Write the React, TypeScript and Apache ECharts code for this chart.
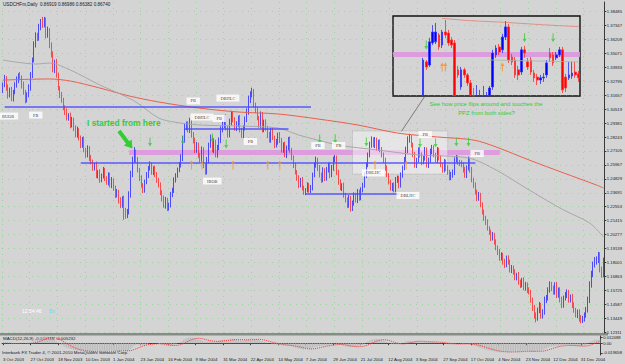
import React, { useEffect, useRef } from "react";
import * as echarts from "echarts";

// ---------- main price data (USDCHF daily) ----------
const firstOpen = 1.3209;
const closes = [
  1.3250,1.3307,1.3225,1.3168,1.3209,1.3143,1.3192,1.3250,1.3290,1.3331,1.3307,1.3250,1.3192,1.3127,1.3168,1.3225,
  1.3331,1.3454,1.3576,1.3658,1.3634,1.3715,1.3764,1.3740,1.3781,1.3658,1.3699,1.3576,1.3495,1.3372,1.3438,1.3331,
  1.3225,1.3168,1.3127,1.3062,1.3029,1.2980,1.3004,1.2923,1.2964,1.2898,1.2841,1.2882,1.2817,1.2759,1.2800,1.2718,
  1.2678,1.2735,1.2653,1.2620,1.2571,1.2596,1.2514,1.2539,1.2473,1.2506,1.2555,1.2490,1.2457,1.2514,1.2432,1.2473,
  1.2408,1.2351,1.2375,1.2310,1.2269,1.2326,1.2228,1.2187,1.2212,1.2351,1.2514,1.2637,1.2702,1.2637,1.2555,1.2490,
  1.2432,1.2392,1.2457,1.2514,1.2571,1.2596,1.2539,1.2571,1.2514,1.2473,1.2432,1.2375,1.2326,1.2269,1.2310,1.2245,
  1.2269,1.2351,1.2392,1.2473,1.2514,1.2555,1.2596,1.2653,1.2800,1.2898,1.2923,1.2882,1.2947,1.2841,1.2800,1.2718,
  1.2759,1.2678,1.2637,1.2718,1.2596,1.2539,1.2637,1.2759,1.2817,1.2718,1.2784,1.2678,1.2735,1.2800,1.2882,1.2923,
  1.2980,1.2898,1.2841,1.2947,1.3004,1.2964,1.2898,1.2923,1.2980,1.2882,1.2841,1.2898,1.2964,1.3029,1.3127,1.3168,
  1.3192,1.3086,1.3045,1.2980,1.2923,1.3004,1.2882,1.2947,1.2898,1.2841,1.2800,1.2882,1.2817,1.2759,1.2784,1.2841,
  1.2800,1.2718,1.2759,1.2678,1.2735,1.2800,1.2718,1.2653,1.2596,1.2539,1.2490,1.2432,1.2473,1.2408,1.2375,1.2392,
  1.2432,1.2392,1.2408,1.2514,1.2596,1.2637,1.2571,1.2514,1.2473,1.2555,1.2490,1.2555,1.2596,1.2514,1.2571,1.2637,
  1.2653,1.2539,1.2457,1.2408,1.2432,1.2351,1.2310,1.2269,1.2326,1.2245,1.2286,1.2351,1.2310,1.2375,1.2326,1.2392,
  1.2432,1.2514,1.2596,1.2678,1.2759,1.2800,1.2759,1.2800,1.2735,1.2784,1.2718,1.2678,1.2637,1.2571,1.2514,1.2457,
  1.2408,1.2432,1.2392,1.2473,1.2490,1.2432,1.2514,1.2571,1.2637,1.2718,1.2800,1.2817,1.2759,1.2678,1.2596,1.2637,
  1.2718,1.2678,1.2620,1.2653,1.2718,1.2596,1.2637,1.2702,1.2735,1.2678,1.2637,1.2718,1.2653,1.2596,1.2555,1.2620,
  1.2571,1.2539,1.2490,1.2514,1.2539,1.2637,1.2653,1.2620,1.2612,1.2596,1.2555,1.2514,1.2571,1.2637,1.2555,1.2473,
  1.2432,1.2375,1.2326,1.2351,1.2269,1.2212,1.2163,1.2130,1.2081,1.2049,1.2000,1.2024,1.1967,1.1918,1.1885,1.1836,
  1.1861,1.1804,1.1779,1.1836,1.1804,1.1738,1.1754,1.1722,1.1673,1.1697,1.1640,1.1616,1.1656,1.1591,1.1616,1.1575,
  1.1558,1.1493,1.1428,1.1370,1.1346,1.1411,1.1452,1.1370,1.1395,1.1493,1.1509,1.1575,1.1616,1.1591,1.1558,1.1616,
  1.1534,1.1575,1.1493,1.1452,1.1509,1.1534,1.1558,1.1493,1.1518,1.1452,1.1411,1.1370,1.1395,1.1346,1.1330,1.1346,
  1.1370,1.1411,1.1493,1.1616,1.1697,1.1779,1.1804,1.1820,1.1861,1.1738,1.1697,1.1804,
];
// wick extensions beyond the body, in pips
const upperWicks = [
  20,25,15,30,20,25,18,22,30,15,25,20,28,18,22,30,
  25,20,30,22,18,35,25,42,25,20,28,15,22,30,18,25,
  20,15,25,18,22,30,15,20,25,18,22,28,15,20,25,30,
  18,22,15,25,20,18,28,15,22,20,25,18,15,22,20,25,
  15,20,25,18,22,15,20,18,25,30,35,28,40,20,25,18,
  22,15,20,25,18,30,22,15,20,25,18,22,15,20,25,18,
  20,25,18,22,15,20,25,30,35,40,28,30,35,22,25,18,
  25,20,18,30,22,15,25,20,28,22,30,18,25,20,30,35,
  25,30,20,28,35,25,22,30,20,25,18,22,28,30,35,30,
  35,25,20,22,18,30,25,20,22,18,25,20,22,18,25,20,
  25,18,22,28,20,25,30,18,22,20,15,22,18,25,20,15,
  22,18,25,20,22,28,18,25,20,22,15,25,20,22,25,28,
  25,20,18,22,15,20,18,22,25,18,20,22,18,25,20,22,
  18,25,22,20,28,30,22,25,20,18,22,25,20,18,22,15,
  20,18,22,25,20,18,22,20,25,28,30,35,22,20,25,18,
  22,25,20,18,25,22,20,28,25,22,18,25,20,22,18,25,
  20,22,18,25,20,22,25,20,18,22,20,25,22,28,20,25,
  18,22,20,25,18,22,20,18,22,15,20,25,18,22,20,25,
  22,18,25,20,22,18,25,20,22,18,25,20,18,22,25,20,
  22,18,20,25,22,20,25,18,22,28,25,22,30,25,20,22,
  25,20,22,28,20,25,22,18,20,25,22,18,20,22,25,18,
  22,25,28,30,35,28,40,30,25,22,28,35,
];
const lowerWicks = [
  25,18,22,30,20,25,28,18,22,25,20,30,22,28,20,18,
  22,25,18,20,25,22,18,25,20,28,22,25,20,18,25,22,
  20,25,22,18,25,20,22,28,20,25,18,22,20,25,22,18,
  22,20,25,18,22,20,25,28,22,18,20,25,22,28,20,25,
  22,25,20,28,25,22,80,30,25,20,22,18,25,22,20,25,
  20,25,22,18,25,20,22,25,18,22,20,25,28,22,30,25,
  22,20,18,25,20,22,18,20,25,22,18,20,25,22,28,25,
  22,25,20,28,25,22,20,25,22,18,25,20,22,18,25,20,
  25,20,22,18,25,20,22,25,18,20,22,25,20,18,22,25,
  20,22,25,18,22,25,20,18,22,25,20,22,18,25,20,22,
  25,20,22,18,25,20,22,18,25,20,22,25,18,20,22,25,
  20,22,25,20,18,22,25,20,22,18,25,22,20,25,18,22,
  20,25,22,18,25,22,20,25,22,30,25,22,20,25,22,18,
  20,22,25,18,20,22,18,25,20,22,18,20,25,22,18,20,
  22,25,20,18,22,25,20,22,18,20,25,22,20,18,22,25,
  20,22,25,18,22,20,25,22,18,20,22,25,20,18,22,20,
  25,22,20,18,22,25,20,22,25,18,20,22,25,20,22,18,
  22,20,25,22,18,20,22,25,20,22,25,20,22,18,25,22,
  20,22,25,18,22,20,25,22,18,20,22,25,20,18,22,25,
  20,22,25,30,35,22,25,30,28,22,25,20,22,25,20,22,
  25,22,20,25,22,20,25,22,20,25,22,20,25,30,28,25,
  30,22,20,25,22,18,20,22,25,20,22,18,
];

// moving averages (read at sample bars)
const redMaBars = [0,27,39,56,73,90,113,136,159,182,205,228,251,272,285,304,324,343,347];
const redMaValues = [1.3290,1.3299,1.3282,1.3225,1.3160,1.3111,1.3062,1.3029,1.3013,1.2972,1.2923,1.2857,1.2825,1.2800,1.2743,1.2637,1.2531,1.2432,1.2408];
const grayMaBars = [0,7,19,27,39,56,75,90,99,113,136,159,171,194,217,240,269,285,304,324,339,347];
const grayMaValues = [1.3454,1.3438,1.3421,1.3429,1.3372,1.3250,1.3127,1.2980,1.2947,1.2923,1.2915,1.2898,1.2841,1.2759,1.2718,1.2678,1.2653,1.2555,1.2392,1.2228,1.2122,1.2008];

// axis labels
const xTickLabels = ["3 Oct 2003","27 Oct 2003","18 Nov 2003","10 Dec 2003","1 Jan 2004","23 Jan 2004","16 Feb 2004","9 Mar 2004","31 Mar 2004","22 Apr 2004","14 May 2004","7 Jun 2004","29 Jun 2004","21 Jul 2004","12 Aug 2004","3 Sep 2004","27 Sep 2004","17 Oct 2004","4 Nov 2004","23 Nov 2004","12 Dec 2004","31 Dec 2004"];
const xTickEvery = 16;
const yTickLabels = ["1.38485","1.37347","1.36209","1.35071","1.33933","1.32795","1.31657","1.30519","1.29381","1.28243","1.27105","1.25967","1.24829","1.23691","1.22553","1.21415","1.20277","1.19139","1.18001","1.16863","1.15725","1.14587","1.13449","1.12311"];
const macdTickLabels = ["0.012488","0.00","-0.019658"];

// annotations
const supportLevels = [1.3070, 1.2612, 1.2890, 1.2359];
const supportFrom = [1, 45, 105, 175];
const supportTo = [178, 273, 165, 229];
const ppzTop = 1.2718, ppzBottom = 1.2678, ppzFrom = 73, ppzTo = 287;
const boxTop = 1.2874, boxBottom = 1.2522, boxFrom = 202, boxTo = 257;
const greenArrowBars = [85,104,121,129,183,192,210,241,250,262,269];
const greenArrowPrices = [1.2784,1.2800,1.2817,1.2767,1.2808,1.2808,1.2784,1.2776,1.2776,1.2784,1.2784];
const orangeArrowBars = [109,115,133,153,160,215,233];
const orangeArrowPrices = [1.2596,1.2596,1.2596,1.2596,1.2596,1.2596,1.2596];
const patternNames = ["BUOB","PB","PB","DBHLC","DBHLC","PB","IBOB","PB","PB","PB","DBLHC","DBLHC","PB","PB"];
const patternBars = [3,19,110,130,115,125,121,143,182,194,214,234,244,274];
const patternPrices = [1.2996,1.3004,1.3119,1.3143,1.2988,1.2976,1.2465,1.2788,1.2755,1.2755,1.2531,1.2347,1.2845,1.2690];

// inset (zoomed view) candles, cut at the inset's lower edge
const insetOpen = [null,null,null,null,null,null,null,null,null,
  1.2546,1.2673,1.2661,1.2744,1.2748,1.2774,1.2736,1.2785,1.2781,1.2755,1.2744,1.2643,1.2579,1.2643,1.2624,1.2594,
  1.2546,1.2546,1.2546,1.2546,1.2546,1.2546,1.2579,1.2699,1.2729,1.2718,1.2766,1.2804,1.2691,1.2680,1.2643,1.2635,
  1.2718,1.2673,1.2680,1.2631,1.2616,1.2605,1.2613,1.2624,1.2706,1.2699,1.2688,1.2699,1.2718,1.2616,1.2613,1.2620,1.2635,1.2628];
const insetClose = [null,null,null,null,null,null,null,null,null,
  1.2680,1.2654,1.2748,1.2785,1.2785,1.2729,1.2785,1.2774,1.2744,1.2736,1.2546,1.2624,1.2643,1.2624,1.2594,1.2549,
  1.2546,1.2546,1.2546,1.2546,1.2546,1.2575,1.2706,1.2725,1.2710,1.2766,1.2804,1.2680,1.2673,1.2624,1.2624,1.2718,
  1.2706,1.2654,1.2635,1.2613,1.2605,1.2613,1.2616,1.2669,1.2688,1.2669,1.2699,1.2718,1.2568,1.2575,1.2624,1.2631,1.2624,1.2613];
const insetLow = [null,null,null,null,null,null,null,null,null,
  1.2546,1.2643,1.2654,1.2736,1.2740,1.2718,1.2725,1.2763,1.2733,1.2725,1.2546,1.2613,1.2568,1.2613,1.2583,1.2546,
  1.2546,1.2546,1.2546,1.2546,1.2546,1.2546,1.2568,1.2688,1.2699,1.2706,1.2755,1.2669,1.2661,1.2613,1.2605,1.2624,
  1.2688,1.2643,1.2624,1.2598,1.2586,1.2590,1.2598,1.2613,1.2673,1.2658,1.2680,1.2691,1.2556,1.2560,1.2605,1.2609,1.2613,1.2598];
const insetHigh = [null,null,null,null,null,null,null,null,null,
  1.2688,1.2680,1.2763,1.2811,1.2819,1.2781,1.2793,1.2830,1.2793,1.2766,1.2755,1.2658,1.2654,1.2650,1.2631,1.2605,
  1.2575,1.2586,1.2568,1.2583,1.2560,1.2583,1.2718,1.2736,1.2740,1.2778,1.2826,1.2815,1.2703,1.2691,1.2658,1.2729,
  1.2733,1.2688,1.2691,1.2643,1.2628,1.2624,1.2631,1.2680,1.2725,1.2710,1.2710,1.2729,1.2729,1.2628,1.2673,1.2673,1.2673,1.2639];
const insetRedBars = [15,23,35,47,58];
const insetRedValues = [1.2836,1.2828,1.2821,1.2812,1.2805];
const insetGrayBars = [30,58];
const insetGrayValues = [1.2680,1.2673];
const insetPpzTop = 1.2710, insetPpzBottom = 1.2691;
const insetGreenBars = [10,41,50];
const insetGreenPrices = [1.2736,1.2763,1.2763];
const insetOrangeBars = [15,16,34];
const insetOrangePrices = [1.2654,1.2654,1.2654];

// ---------- derived tables ----------
const N = closes.length;
const categories = closes.map((_, i) => String(i));
const candleData = closes.map((c, i) => {
  const o = i === 0 ? firstOpen : closes[i - 1];
  return [o, c, Math.min(o, c) - lowerWicks[i] / 10000, Math.max(o, c) + upperWicks[i] / 10000];
});
const sparse = (bars: number[], vals: number[], n: number) => {
  const a: (number | null)[] = new Array(n).fill(null);
  bars.forEach((b, k) => (a[b] = vals[k]));
  return a;
};
const ema = (src: number[], n: number) => {
  const k = 2 / (n + 1);
  const out: number[] = [];
  let e = src[0];
  src.forEach((v, i) => {
    e = i === 0 ? v : v * k + e * (1 - k);
    out.push(e);
  });
  return out;
};
const e12 = ema(closes, 12);
const e26 = ema(closes, 26);
const macdMain = closes.map((_, i) => e12[i] - e26[i]);
const macdSignal = macdMain.map((_, i) => {
  const w = macdMain.slice(Math.max(0, i - 8), i + 1);
  return w.reduce((a, b) => a + b, 0) / w.length;
});
const yTickValues = yTickLabels.map(parseFloat);
const macdTickValues = macdTickLabels.map(parseFloat);
const insetN = insetOpen.length;
const insetCats = insetOpen.map((_, i) => String(i));
const insetData = insetOpen.map((o, i) =>
  o === null ? ["-", "-", "-", "-"] : [o, insetClose[i], insetLow[i], insetHigh[i]]
);

const FONT = "Liberation Sans, Arial, sans-serif";
const gridGreen = "rgba(100,205,100,0.45)";
const downArrow = "path://M3 0H5V6H8L4 10L0 6H3Z";
const upArrow = "path://M4 0L8 4H5V10H3V4H0Z";

const option: any = {
  animation: false,
  backgroundColor: "#d4d4d4",
  grid: [
    { left: 2, top: 2, width: 606, height: 331 },
    { left: 2, top: 336, width: 606, height: 19 },
    { left: 393, top: 16, width: 187, height: 80 },
  ],
  xAxis: [
    {
      gridIndex: 0, type: "category", data: categories, boundaryGap: true,
      axisLine: { show: false }, axisTick: { show: false }, axisLabel: { show: false },
      splitLine: { show: true, interval: xTickEvery - 1, lineStyle: { color: gridGreen, type: [1, 5], width: 1 } },
    },
    {
      gridIndex: 1, type: "category", data: categories, boundaryGap: true,
      axisLine: { show: true, lineStyle: { color: "#3a3a3a", width: 1 } },
      axisTick: { show: true, interval: xTickEvery - 1, alignWithLabel: true, length: 2, lineStyle: { color: "#3a3a3a" } },
      axisLabel: {
        interval: xTickEvery - 1, align: "left", margin: 2, fontSize: 4.3, color: "#1a1a1a", fontFamily: FONT,
        formatter: (_v: string, idx: number) => (idx % xTickEvery === 0 ? xTickLabels[idx / xTickEvery] ?? "" : ""),
      },
      splitLine: { show: false },
    },
    { gridIndex: 2, type: "category", data: insetCats, boundaryGap: true, show: false },
  ],
  yAxis: [
    {
      gridIndex: 0, type: "value", position: "right", min: 1.12235, max: 1.39278,
      axisLine: { show: true, lineStyle: { color: "#3a3a3a", width: 1 } },
      axisTick: { show: true, length: 2, customValues: yTickValues, lineStyle: { color: "#3a3a3a" } },
      axisLabel: {
        customValues: yTickValues, fontSize: 4.2, color: "#1a1a1a", margin: 2.5, fontFamily: FONT,
        formatter: (v: number) => {
          const k = yTickValues.findIndex((t) => Math.abs(t - v) < 1e-6);
          return k >= 0 ? yTickLabels[k] : "";
        },
      },
      splitLine: { show: true, lineStyle: { color: gridGreen, type: [1, 5], width: 1 } },
    },
    {
      gridIndex: 1, type: "value", position: "right", min: -0.0237, max: 0.0145,
      axisLine: { show: true, lineStyle: { color: "#3a3a3a", width: 1 } },
      axisTick: { show: true, length: 2, customValues: macdTickValues, lineStyle: { color: "#3a3a3a" } },
      axisLabel: {
        customValues: macdTickValues, fontSize: 4.2, color: "#1a1a1a", margin: 2.5, fontFamily: FONT,
        formatter: (v: number) => {
          const k = macdTickValues.findIndex((t) => Math.abs(t - v) < 1e-7);
          return k >= 0 ? macdTickLabels[k] : "";
        },
      },
      splitLine: { show: false },
    },
    { gridIndex: 2, type: "value", min: 1.2545, max: 1.2845, show: false },
  ],
  series: [
    {
      name: "price", type: "candlestick", xAxisIndex: 0, yAxisIndex: 0, data: candleData,
      barWidth: 1.3, silent: true,
      itemStyle: { color: "#0000ff", color0: "#ff0000", borderColor: "#2a2aff", borderColor0: "#ff2a2a", borderWidth: 0.8 },
    },
    {
      name: "slowMA", type: "line", xAxisIndex: 0, yAxisIndex: 0, data: sparse(redMaBars, redMaValues, N),
      connectNulls: true, smooth: 0.3, symbol: "none", silent: true,
      lineStyle: { color: "#e8604c", width: 1 },
      markLine: {
        silent: true, symbol: ["none", "none"], label: { show: false },
        lineStyle: { color: "#4a4aff", width: 1.6, type: "solid", opacity: 0.9 },
        data: supportLevels.map((lv, k) => [{ coord: [supportFrom[k], lv] }, { coord: [supportTo[k], lv] }]),
      },
      markArea: {
        silent: true, label: { show: false },
        data: [
          [{ coord: [ppzFrom, ppzTop], itemStyle: { color: "rgba(222,150,222,0.9)" } }, { coord: [ppzTo, ppzBottom] }],
          [{ coord: [boxFrom, boxTop], itemStyle: { color: "rgba(245,245,245,0.5)", borderColor: "#9a9a9a", borderWidth: 0.6, borderType: "dotted" } }, { coord: [boxTo, boxBottom] }],
        ],
      },
    },
    {
      name: "fastMA", type: "line", xAxisIndex: 0, yAxisIndex: 0, data: sparse(grayMaBars, grayMaValues, N),
      connectNulls: true, smooth: 0.3, symbol: "none", silent: true,
      lineStyle: { color: "#a8a8a8", width: 1 },
    },
    {
      name: "greenArrows", type: "scatter", xAxisIndex: 0, yAxisIndex: 0, symbol: downArrow, symbolSize: [4, 9],
      itemStyle: { color: "#33cc33" }, silent: true, z: 5,
      data: greenArrowBars.map((b, k) => [b, greenArrowPrices[k]]),
    },
    {
      name: "orangeArrows", type: "scatter", xAxisIndex: 0, yAxisIndex: 0, symbol: upArrow, symbolSize: [4, 9],
      itemStyle: { color: "#ff8c1a" }, silent: true, z: 5,
      data: orangeArrowBars.map((b, k) => [b, orangeArrowPrices[k]]),
    },
    {
      name: "patterns", type: "scatter", xAxisIndex: 0, yAxisIndex: 0, symbolSize: 1,
      itemStyle: { color: "transparent" }, silent: true, z: 6,
      data: patternNames.map((n, k) => ({ name: n, value: [patternBars[k], patternPrices[k]] })),
      label: {
        show: true, position: "inside", formatter: "{b}", fontSize: 4.4, color: "#000",
        backgroundColor: "#ffffff", padding: [1.5, 4], fontFamily: "Liberation Serif, serif",
      },
    },
    {
      name: "MACD", type: "bar", xAxisIndex: 1, yAxisIndex: 1, data: macdMain, barWidth: 1,
      itemStyle: { color: "#b8b8b8" }, silent: true,
    },
    {
      name: "Signal", type: "line", xAxisIndex: 1, yAxisIndex: 1, data: macdSignal, symbol: "none", silent: true,
      lineStyle: { color: "#ff3030", width: 1, type: "dotted" },
    },
    {
      name: "insetPrice", type: "candlestick", xAxisIndex: 2, yAxisIndex: 2, data: insetData, barWidth: 2.2,
      silent: true, clip: true,
      itemStyle: { color: "#0000ff", color0: "#ff0000", borderColor: "#3030ff", borderColor0: "#ff3030", borderWidth: 0.8 },
    },
    {
      name: "insetRed", type: "line", xAxisIndex: 2, yAxisIndex: 2, data: sparse(insetRedBars, insetRedValues, insetN),
      connectNulls: true, symbol: "none", silent: true, lineStyle: { color: "#e8604c", width: 0.8, opacity: 0.7 },
      markArea: {
        silent: true, label: { show: false }, itemStyle: { color: "rgba(222,150,222,0.9)" },
        data: [[{ yAxis: insetPpzTop }, { yAxis: insetPpzBottom }]],
      },
    },
    {
      name: "insetGray", type: "line", xAxisIndex: 2, yAxisIndex: 2, data: sparse(insetGrayBars, insetGrayValues, insetN),
      connectNulls: true, symbol: "none", silent: true, lineStyle: { color: "#b0b0b0", width: 0.8 },
    },
    {
      name: "insetGreen", type: "scatter", xAxisIndex: 2, yAxisIndex: 2, symbol: downArrow, symbolSize: [4, 9],
      itemStyle: { color: "#33cc33" }, silent: true, z: 5,
      data: insetGreenBars.map((b, k) => [b, insetGreenPrices[k]]),
    },
    {
      name: "insetOrange", type: "scatter", xAxisIndex: 2, yAxisIndex: 2, symbol: upArrow, symbolSize: [4, 9],
      itemStyle: { color: "#ff8c1a" }, silent: true, z: 5,
      data: insetOrangeBars.map((b, k) => [b, insetOrangePrices[k]]),
    },
  ],
  graphic: [
    { type: "rect", shape: { x: 0, y: 333, width: 608, height: 2.5 }, style: { fill: "#8a8a8a" }, silent: true },
    { type: "rect", shape: { x: 393, y: 16, width: 187, height: 80 }, style: { fill: "none", stroke: "#111", lineWidth: 1.4 }, silent: true },
    { type: "line", shape: { x1: 425, y1: 96, x2: 401, y2: 132 }, style: { stroke: "#555", lineWidth: 0.7 }, silent: true },
    {
      type: "polygon", silent: true,
      shape: { points: [[120.6, 129.8], [129.3, 141.3], [131.6, 139.4], [132.5, 148.5], [123.8, 145.6], [126.1, 143.7], [117.4, 132.2]] },
      style: { fill: "#33cc33" },
    },
    { type: "text", x: 3, y: 4.5, silent: true, style: { text: "USDCHFm,Daily  0.86919 0.86986 0.86382 0.86740", fill: "#1a1a1a", font: `4.6px ${FONT}`, textVerticalAlign: "middle" } },
    { type: "text", x: 87, y: 122.5, silent: true, style: { text: "I started from here", fill: "#33cc33", font: `bold 8.4px ${FONT}`, textVerticalAlign: "middle" } },
    { type: "text", x: 486, y: 103.5, silent: true, style: { text: "See how price flips around and touches the", fill: "#33cc33", font: `5.9px ${FONT}`, textAlign: "center", textVerticalAlign: "middle" } },
    { type: "text", x: 486.5, y: 113, silent: true, style: { text: "PPZ from both sides?", fill: "#33cc33", font: `5.9px ${FONT}`, textAlign: "center", textVerticalAlign: "middle" } },
    { type: "text", x: 22, y: 311, silent: true, style: { text: "12:54:46", fill: "#ffffff", font: `5px ${FONT}`, textVerticalAlign: "middle" } },
    { type: "text", x: 49, y: 311, silent: true, style: { text: "Bx", fill: "#5fe0e8", font: `5px ${FONT}`, textVerticalAlign: "middle" } },
    { type: "text", x: 3, y: 338.5, silent: true, style: { text: "MACD(12,26,9) -0.000666 -0.005232", fill: "#1a1a1a", font: `4.4px ${FONT}`, textVerticalAlign: "middle" } },
    { type: "text", x: 2, y: 352, silent: true, style: { text: "Interbank FX Trader 4, © 2001-2010 MetaQuotes Software Corp.", fill: "#1a1a1a", font: `4.4px ${FONT}`, textVerticalAlign: "middle" } },
  ],
};

export default function App() {
  const ref = useRef<HTMLDivElement>(null);
  useEffect(() => {
    if (!ref.current) return;
    const chart = echarts.init(ref.current, undefined, { renderer: "svg" });
    chart.setOption(option);
    return () => chart.dispose();
  }, []);
  return <div ref={ref} style={{ position: "fixed", left: 0, top: 0, width: 625, height: 364 }} />;
}
